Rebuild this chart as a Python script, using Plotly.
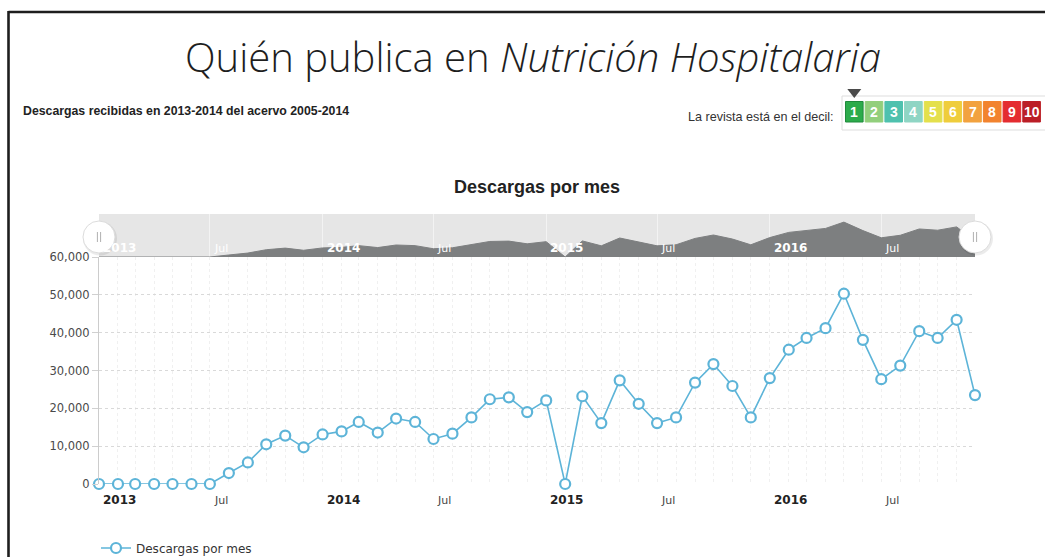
import plotly.graph_objects as go

W, H = 1045, 557

# ---------------- data ----------------
months = [f"{y}-{m:02d}-01" for y in range(2013, 2017) for m in range(1, 13)]
downloads = [0, 0, 0, 0, 0, 0, 0, 2900, 5700, 10500, 12800, 9700,
             13100, 13900, 16400, 13600, 17300, 16400, 11900, 13300, 17600, 22400, 22900, 19000,
             22100, 0, 23200, 16100, 27400, 21200, 16100, 17600, 26800, 31700, 25900, 17600,
             28000, 35500, 38600, 41200, 50300, 38100, 27700, 31300, 40400, 38600, 43400, 23500]
series_name = "Descargas por mes"

tick_dates = ["2013-01-01", "2013-07-01", "2014-01-01", "2014-07-01",
              "2015-01-01", "2015-07-01", "2016-01-01", "2016-07-01"]
tick_text = ["2013", "Jul", "2014", "Jul", "2015", "Jul", "2016", "Jul"]
tick_is_year = [True, False, True, False, True, False, True, False]

y_ticks = [0, 10000, 20000, 30000, 40000, 50000, 60000]

decile_labels = ["1", "2", "3", "4", "5", "6", "7", "8", "9", "10"]
decile_colors = ["#2cab4b", "#92cf7c", "#4fc1ae", "#8fd5c4", "#e4e04c",
                 "#efcd3c", "#f2a23f", "#f2832e", "#e42c30", "#bb1e26"]
journal_decile = 1

main_title = "Quién publica en <i>Nutrición Hospitalaria</i>"
subtitle = "Descargas recibidas en 2013-2014 del acervo 2005-2014"
decile_text = "La revista está en el decil:"
chart_title = "Descargas por mes"


# ---------------- helpers (pixel -> paper) ----------------
def px(x):
    return x / W


def py(y):
    return (H - y) / H


LINE_COLOR = "#5db4d8"
VERDANA = "DejaVu Sans"
ARIAL = "Liberation Sans"

fig = go.Figure()

# navigator area
fig.add_trace(go.Scatter(
    x=months, y=downloads, xaxis="x2", yaxis="y2",
    mode="lines", line=dict(color="#7d7f80", width=1),
    fill="tozeroy", fillcolor="#7d7f80",
    showlegend=False, hoverinfo="skip"))

# main series
fig.add_trace(go.Scatter(
    x=months, y=downloads, name=series_name,
    mode="lines+markers",
    line=dict(color=LINE_COLOR, width=1.6),
    marker=dict(symbol="circle", size=10, color="white",
                line=dict(color=LINE_COLOR, width=2.2)),
    cliponaxis=False))

shapes = []
annotations = []

# outer frame (top and left black rules)
shapes.append(dict(type="line", xref="paper", yref="paper",
                   x0=px(8.5), x1=px(W + 5), y0=py(12), y1=py(12),
                   line=dict(color="#1e1e1e", width=2.6)))
shapes.append(dict(type="line", xref="paper", yref="paper",
                   x0=px(8.5), x1=px(8.5), y0=py(11), y1=py(H + 5),
                   line=dict(color="#1e1e1e", width=2.6)))

# navigator band
shapes.append(dict(type="rect", xref="paper", yref="paper", layer="below",
                   x0=px(99), x1=px(975), y0=py(257), y1=py(214),
                   fillcolor="#e6e6e6", line=dict(width=0)))

# navigator handles
for hx in [99, 975]:
    shapes.append(dict(type="circle", xref="paper", yref="paper",
                       xsizemode="pixel", ysizemode="pixel",
                       xanchor=px(hx + 1), yanchor=py(238.5),
                       x0=-17, x1=17, y0=-17, y1=17,
                       fillcolor="rgba(0,0,0,0.08)", line=dict(width=0)))
    shapes.append(dict(type="circle", xref="paper", yref="paper",
                       xsizemode="pixel", ysizemode="pixel",
                       xanchor=px(hx), yanchor=py(237),
                       x0=-16, x1=16, y0=-16, y1=16,
                       fillcolor="white", line=dict(color="#dcdcdc", width=1)))
    for dx in (-1.6, 1.6):
        shapes.append(dict(type="line", xref="paper", yref="paper",
                           xsizemode="pixel", ysizemode="pixel",
                           xanchor=px(hx), yanchor=py(237),
                           x0=dx, x1=dx, y0=-5, y1=5,
                           line=dict(color="#b0b0b0", width=1)))

# decile widget
shapes.append(dict(type="rect", xref="paper", yref="paper",
                   x0=px(842), x1=px(1047), y0=py(130), y1=py(96),
                   fillcolor="white", line=dict(color="#dddddd", width=1)))
for i, (lab, col) in enumerate(zip(decile_labels, decile_colors)):
    x0 = 845.5 + i * 19.7
    x1 = x0 + 17.6
    selected = (i + 1) == journal_decile
    shapes.append(dict(type="rect", xref="paper", yref="paper",
                       x0=px(x0), x1=px(x1), y0=py(122), y1=py(101.5),
                       fillcolor=col,
                       line=dict(color="#1f8a3c" if selected else col, width=1)))
    annotations.append(dict(x=px((x0 + x1) / 2), y=py(112), xref="paper", yref="paper",
                            xanchor="center", yanchor="middle",
                            text=f"<b>{lab}</b>", showarrow=False,
                            font=dict(family=ARIAL, size=14, color="white")))
    if selected:
        cx = (x0 + x1) / 2
        shapes.append(dict(type="path", xref="paper", yref="paper",
                           path=f"M {px(cx - 7)} {py(89)} L {px(cx + 7)} {py(89)} L {px(cx)} {py(98)} Z",
                           fillcolor="#4a4a4a", line=dict(width=0)))

annotations.append(dict(x=px(836), y=py(117), xref="paper", yref="paper",
                        xanchor="right", yanchor="middle", text=decile_text, showarrow=False,
                        font=dict(family=ARIAL, size=12.6, color="#333333")))

# big title
annotations.append(dict(x=px(533), y=py(56), xref="paper", yref="paper",
                        xanchor="center", yanchor="middle",
                        text=main_title, showarrow=False,
                        font=dict(family="Open Sans", size=40, color="#1e1e1e", weight=300)))
# subtitle
annotations.append(dict(x=px(21), y=py(111), xref="paper", yref="paper",
                        xanchor="left", yanchor="middle", text=f"<b>{subtitle}</b>", showarrow=False,
                        font=dict(family=ARIAL, size=12.3, color="#222222")))
# chart title
annotations.append(dict(x=px(537), y=py(187), xref="paper", yref="paper",
                        xanchor="center", yanchor="middle",
                        text=f"<b>{chart_title}</b>", showarrow=False,
                        font=dict(family=ARIAL, size=18, color="#222222")))

# x tick labels (main axis and navigator), left-aligned next to their tick
for d, t, yr in zip(tick_dates, tick_text, tick_is_year):
    label = f"<b>{t}</b>" if yr else t
    annotations.append(dict(x=d, y=py(500), xref="x", yref="paper",
                            xanchor="left", yanchor="middle", xshift=2, text=label, showarrow=False,
                            font=dict(family=VERDANA, size=12 if yr else 11,
                                      color="#222222" if yr else "#444444")))
    annotations.append(dict(x=d, y=py(248), xref="x2", yref="paper",
                            xanchor="left", yanchor="middle", xshift=2, text=label, showarrow=False,
                            font=dict(family=VERDANA, size=12 if yr else 11, color="white")))

fig.update_layout(
    width=W, height=H,
    margin=dict(l=0, r=0, t=0, b=0, autoexpand=False),
    paper_bgcolor="white", plot_bgcolor="white",
    xaxis=dict(domain=[px(99), px(975)], type="date",
               range=[months[0], months[-1]],
               tickvals=tick_dates, showticklabels=False, ticks="",
               showgrid=True, gridcolor="#f0f0f0", griddash="dot", gridwidth=1,
               minor=dict(dtick="M1", tick0=months[0], showgrid=True,
                          gridcolor="#f0f0f0", griddash="dot", gridwidth=1, ticks=""),
               showline=False, zeroline=False, anchor="y", automargin=False),
    yaxis=dict(domain=[py(484), py(257)], range=[0, 60000],
               tickvals=y_ticks, tickformat=",",
               tickfont=dict(family=VERDANA, size=11.5, color="#4a4a4a"),
               ticks="outside", ticklen=6, tickcolor="#d0d0d0",
               showgrid=True, gridcolor="#d9d9d9", griddash="dot", gridwidth=1,
               showline=True, linecolor="#cccccc", linewidth=1,
               zeroline=False, anchor="x", automargin=False),
    xaxis2=dict(domain=[px(99), px(975)], type="date", matches="x",
                tickvals=tick_dates, showticklabels=False, ticks="",
                showgrid=True, gridcolor="#f3f3f3", gridwidth=1,
                showline=False, zeroline=False, anchor="y2"),
    yaxis2=dict(domain=[py(257), py(214)], range=[0, 62000],
                showticklabels=False, showgrid=False, zeroline=False,
                showline=False, ticks="", anchor="x2"),
    legend=dict(orientation="h", x=px(96), y=py(548), xanchor="left", yanchor="middle",
                font=dict(family=VERDANA, size=12, color="#333333"),
                bgcolor="rgba(0,0,0,0)"),
    showlegend=True,
    shapes=shapes,
    annotations=annotations,
    hovermode="closest",
)

fig.write_html("out.html")
